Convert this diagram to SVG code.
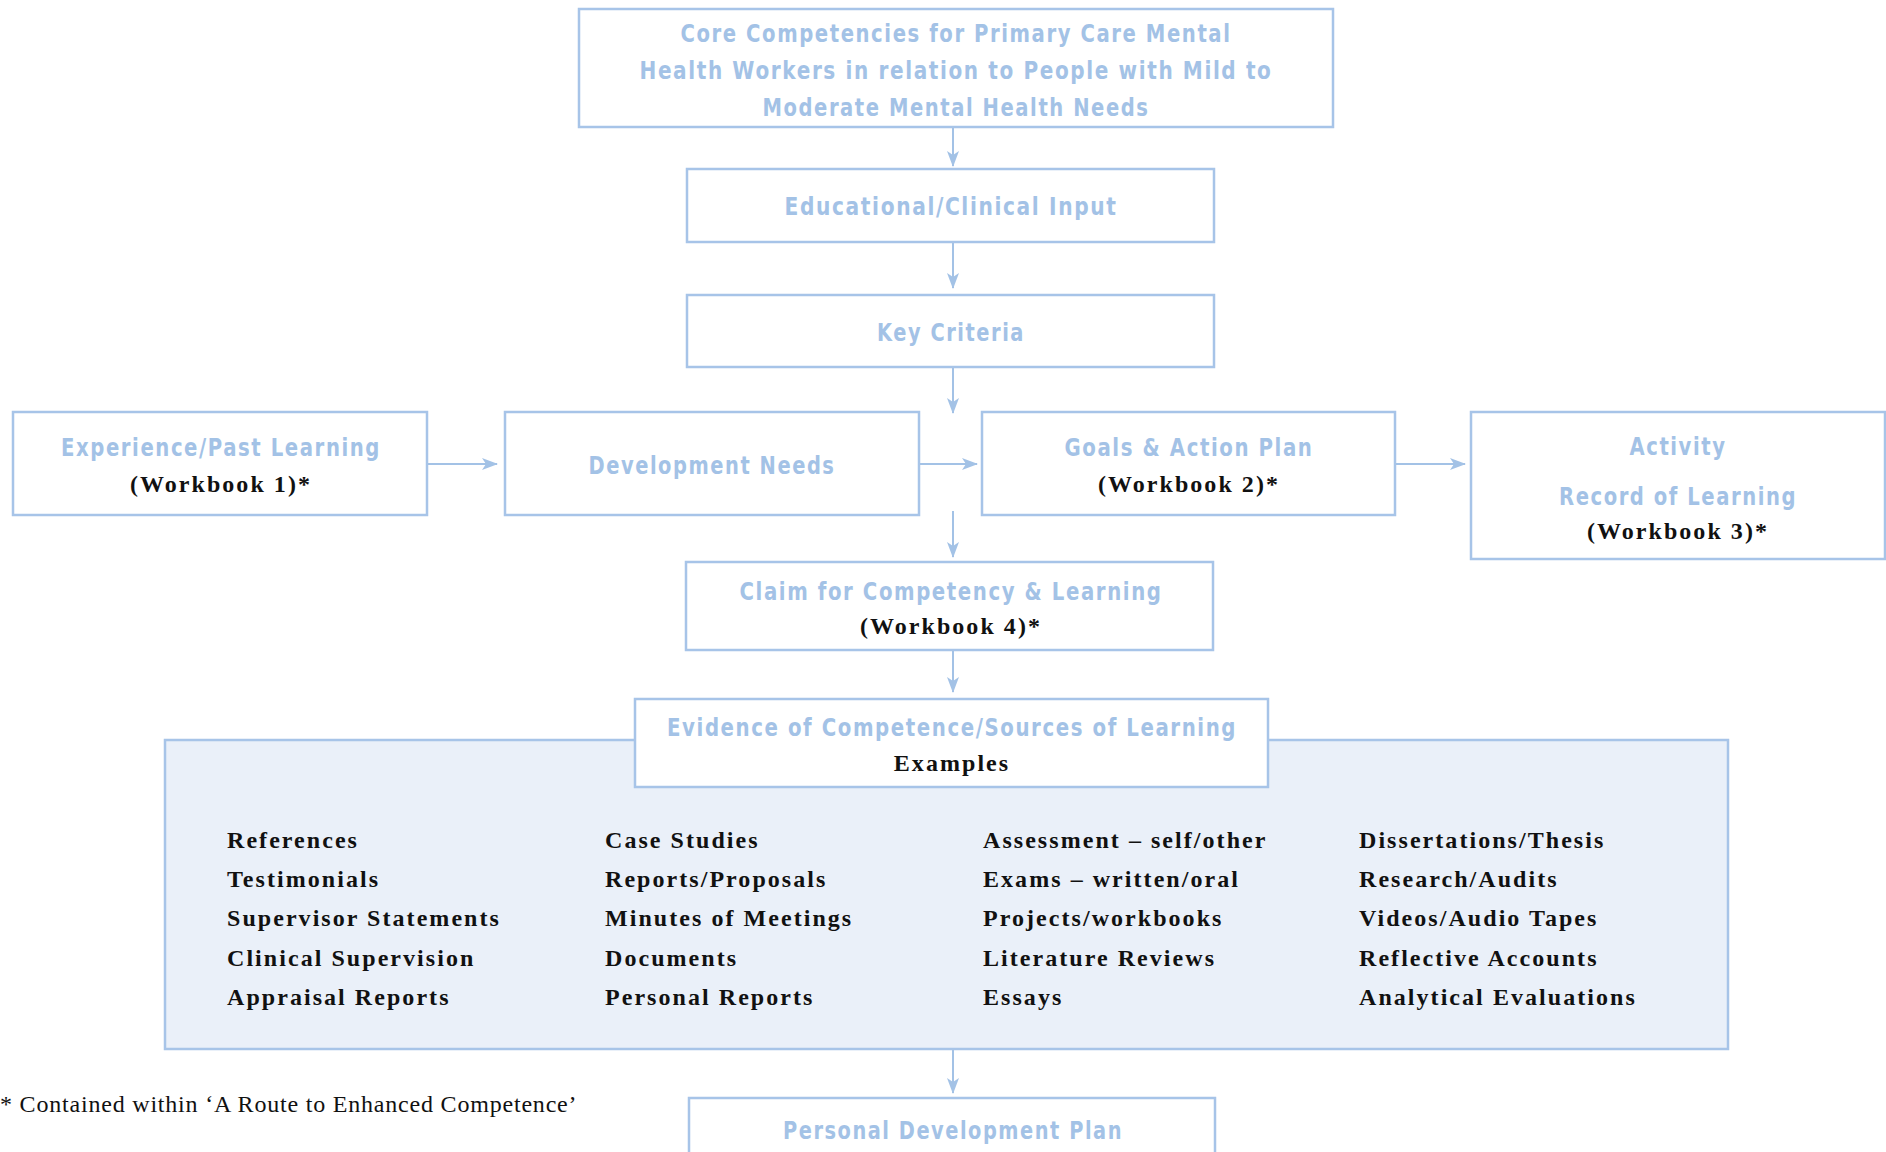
<svg xmlns="http://www.w3.org/2000/svg" width="1886" height="1152" viewBox="0 0 1886 1152">
<defs>
<marker id="ah" markerUnits="userSpaceOnUse" markerWidth="16" markerHeight="12" refX="15" refY="6" orient="auto">
<path d="M0,0 L16,6 L0,12 L4,6 z" fill="#a3c2e6"/>
</marker>
<style>
.box{fill:#fff;stroke:#a7c4e8;stroke-width:2.5}
.panel{fill:#eaf0f9;stroke:#a7c4e8;stroke-width:2.5}
.b{font-family:"DejaVu Sans","Open Sans",sans-serif;font-weight:bold;font-size:25px;fill:#a3c2e6;letter-spacing:2px;text-anchor:middle}
.k{font-family:"Liberation Serif",serif;font-weight:bold;font-size:24px;fill:#111;letter-spacing:2.05px}
.kc{text-anchor:middle}
.f{font-family:"Liberation Serif",serif;font-size:24px;letter-spacing:0.8px;fill:#111}
.c{stroke:#a3c2e6;stroke-width:2;fill:none;marker-end:url(#ah)}
</style>
</defs>
<rect width="1886" height="1152" fill="#fff"/>
<g id="connectors">
<line class="c" x1="953" y1="128" x2="953" y2="166"/>
<line class="c" x1="953" y1="242" x2="953" y2="288"/>
<line class="c" x1="953" y1="367" x2="953" y2="413"/>
<line class="c" x1="427" y1="464" x2="497" y2="464"/>
<line class="c" x1="919" y1="464" x2="977" y2="464"/>
<line class="c" x1="1395" y1="464" x2="1465" y2="464"/>
<line class="c" x1="953" y1="511" x2="953" y2="557"/>
<line class="c" x1="953" y1="650" x2="953" y2="692"/>
<line class="c" x1="953" y1="1049" x2="953" y2="1093"/>
</g>
<g id="core">
<rect class="box" x="579" y="9" width="754" height="118"/>
<text class="b" x="956" y="42" textLength="551" lengthAdjust="spacingAndGlyphs">Core Competencies for Primary Care Mental</text>
<text class="b" x="956" y="79" textLength="633" lengthAdjust="spacingAndGlyphs">Health Workers in relation to People with Mild to</text>
<text class="b" x="956" y="116" textLength="387" lengthAdjust="spacingAndGlyphs">Moderate Mental Health Needs</text>
</g>
<g id="educational">
<rect class="box" x="687" y="169" width="527" height="73"/>
<text class="b" x="951" y="215" textLength="333" lengthAdjust="spacingAndGlyphs">Educational/Clinical Input</text>
</g>
<g id="key-criteria">
<rect class="box" x="687" y="295" width="527" height="72"/>
<text class="b" x="951" y="341" textLength="148" lengthAdjust="spacingAndGlyphs">Key Criteria</text>
</g>
<g id="experience">
<rect class="box" x="13" y="412" width="414" height="103"/>
<text class="b" x="221" y="456" textLength="320" lengthAdjust="spacingAndGlyphs">Experience/Past Learning</text>
<text class="k kc" x="221" y="492">(Workbook 1)*</text>
</g>
<g id="development-needs">
<rect class="box" x="505" y="412" width="414" height="103"/>
<text class="b" x="712" y="474" textLength="247" lengthAdjust="spacingAndGlyphs">Development Needs</text>
</g>
<g id="goals">
<rect class="box" x="982" y="412" width="413" height="103"/>
<text class="b" x="1189" y="456" textLength="249" lengthAdjust="spacingAndGlyphs">Goals &amp; Action Plan</text>
<text class="k kc" x="1189" y="492">(Workbook 2)*</text>
</g>
<g id="activity">
<rect class="box" x="1471" y="412" width="414" height="147"/>
<text class="b" x="1678" y="455" textLength="97" lengthAdjust="spacingAndGlyphs">Activity</text>
<text class="b" x="1678" y="505" textLength="238" lengthAdjust="spacingAndGlyphs">Record of Learning</text>
<text class="k kc" x="1678" y="539">(Workbook 3)*</text>
</g>
<g id="claim">
<rect class="box" x="686" y="562" width="527" height="88"/>
<text class="b" x="951" y="600" textLength="423" lengthAdjust="spacingAndGlyphs">Claim for Competency &amp; Learning</text>
<text class="k kc" x="951" y="634">(Workbook 4)*</text>
</g>
<g id="evidence-panel">
<rect class="panel" x="165" y="740" width="1563" height="309"/>
<text class="k" x="227" y="848">References</text>
<text class="k" x="227" y="887">Testimonials</text>
<text class="k" x="227" y="926">Supervisor Statements</text>
<text class="k" x="227" y="966">Clinical Supervision</text>
<text class="k" x="227" y="1005">Appraisal Reports</text>
<text class="k" x="605" y="848">Case Studies</text>
<text class="k" x="605" y="887">Reports/Proposals</text>
<text class="k" x="605" y="926">Minutes of Meetings</text>
<text class="k" x="605" y="966">Documents</text>
<text class="k" x="605" y="1005">Personal Reports</text>
<text class="k" x="983" y="848">Assessment – self/other</text>
<text class="k" x="983" y="887">Exams – written/oral</text>
<text class="k" x="983" y="926">Projects/workbooks</text>
<text class="k" x="983" y="966">Literature Reviews</text>
<text class="k" x="983" y="1005">Essays</text>
<text class="k" x="1359" y="848">Dissertations/Thesis</text>
<text class="k" x="1359" y="887">Research/Audits</text>
<text class="k" x="1359" y="926">Videos/Audio Tapes</text>
<text class="k" x="1359" y="966">Reflective Accounts</text>
<text class="k" x="1359" y="1005">Analytical Evaluations</text>
</g>
<g id="evidence">
<rect class="box" x="635" y="699" width="633" height="88"/>
<text class="b" x="952" y="736" textLength="570" lengthAdjust="spacingAndGlyphs">Evidence of Competence/Sources of Learning</text>
<text class="k kc" x="952" y="771">Examples</text>
</g>
<g id="personal-development-plan">
<rect class="box" x="689" y="1098" width="526" height="70"/>
<text class="b" x="953" y="1139" textLength="340" lengthAdjust="spacingAndGlyphs">Personal Development Plan</text>
</g>
<text class="f" x="0" y="1112">* Contained within ‘A Route to Enhanced Competence’</text>
</svg>
